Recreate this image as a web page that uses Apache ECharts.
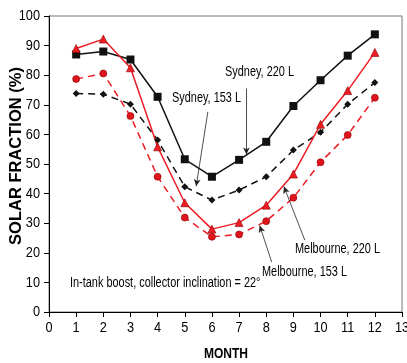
<!DOCTYPE html>
<html><head><meta charset="utf-8">
<script src="https://cdn.jsdelivr.net/npm/echarts@6/dist/echarts.min.js"></script>
<style>html,body{margin:0;padding:0;background:#fff}#c{width:407px;height:363px}</style>
</head><body><div id="c"></div>
<script>
const months = [1,2,3,4,5,6,7,8,9,10,11,12];
const sydney220 = [87,88,85.3,72.7,51.6,45.7,51.4,57.5,69.6,78.3,86.6,93.8];
const melbourne220 = [89,92.2,82.5,55.8,36.9,28,30.2,36.1,46.6,63.4,74.8,87.7];
const sydney153 = [73.8,73.6,70.2,58.1,42.3,37.8,41.2,45.7,54.7,60.7,70.2,77.5];
const melbourne153 = [78.7,80.6,66.2,45.7,31.9,25.4,26.2,30.7,38.6,50.6,59.8,72.4];
const xTicks = [0,1,2,3,4,5,6,7,8,9,10,11,12,13];
const yTicks = [0,10,20,30,40,50,60,70,80,90,100];

const FONT = '"Liberation Sans",sans-serif';
const pair = a => months.map((m,i)=>[m,a[i]]);
const chart = echarts.init(document.getElementById('c'), null, {renderer:'canvas'});
const arrowLines = [
  [[7.27,75.5],[7.27,53.2]],
  [[5.85,67.6],[5.42,42.5]],
  [[9.42,24.3],[8.65,42.4]],
  [[8.2,16.9],[7.76,29.2]]
];
const ann = (txt,x,y)=>({type:'text',x:x,y:y,scaleX:0.78,
  style:{text:txt,font:'14px '+FONT,fill:'#000',textAlign:'left',textVerticalAlign:'middle'}});
const option = {
  animation:false,
  grid:{left:49,right:5,top:16,bottom:51,show:true,borderColor:'#777',borderWidth:1,containLabel:false,outerBoundsMode:'none'},
  xAxis:{type:'value',min:0,max:13,interval:1,
    axisLine:{onZero:false,lineStyle:{color:'#000',width:1}},
    axisTick:{show:true,inside:false,length:5,lineStyle:{color:'#000'}},
    axisLabel:{show:false},
    splitLine:{show:false}},
  yAxis:{type:'value',min:0,max:100,interval:10,
    axisLine:{show:true,lineStyle:{color:'#000',width:1}},
    axisTick:{show:true,inside:false,length:5,lineStyle:{color:'#000'}},
    axisLabel:{show:false},
    splitLine:{show:false}},
  series:[
    {name:'Sydney, 220 L',type:'line',data:pair(sydney220),symbol:'rect',symbolSize:8,
      lineStyle:{color:'#111',width:1.5},itemStyle:{color:'#111'}},
    {name:'Sydney, 153 L',type:'line',data:pair(sydney153),symbol:'diamond',symbolSize:7,
      lineStyle:{color:'#111',width:1.5,type:[7,5]},itemStyle:{color:'#111'}},
    {name:'Melbourne, 220 L',type:'line',data:pair(melbourne220),symbol:'triangle',symbolSize:8,
      lineStyle:{color:'#ee1c24',width:1.5},itemStyle:{color:'#ee1c24',borderColor:'#8b0000',borderWidth:0.6}},
    {name:'Melbourne, 153 L',type:'line',data:pair(melbourne153),symbol:'circle',symbolSize:7,
      lineStyle:{color:'#ee1c24',width:1.5,type:[7,5]},itemStyle:{color:'#e0141c',borderColor:'#8b0000',borderWidth:0.6}},
    {type:'line',data:[],silent:true,
      markLine:{silent:true,symbol:['none','arrow'],symbolSize:[5,7],label:{show:false},
        lineStyle:{color:'#222',width:0.8,type:'solid'},
        data:arrowLines.map(l=>[{coord:l[0]},{coord:l[1]}])}}
  ]
};
chart.setOption(option);
const g = [
  ann('Sydney, 220 L',225,72),
  ann('Sydney, 153 L',172,98),
  ann('Melbourne, 220 L',295,249),
  ann('Melbourne, 153 L',262,272),
  ann('In-tank boost, collector inclination = 22°',70,283),
  {type:'text',x:226,y:354,scaleX:0.86,style:{text:'MONTH',font:'bold 14px '+FONT,fill:'#000',textAlign:'center',textVerticalAlign:'middle'}},
  {type:'text',x:16,y:156,rotation:Math.PI/2,style:{text:'SOLAR FRACTION (%)',font:'bold 16.5px '+FONT,fill:'#000',textAlign:'center',textVerticalAlign:'middle'}}
];
xTicks.forEach(v=>{
  const p = chart.convertToPixel({gridIndex:0},[v,0]);
  g.push({type:'text',x:p[0],y:p[1]+16,scaleX:0.85,style:{text:String(v),font:'15px '+FONT,fill:'#000',textAlign:'center',textVerticalAlign:'middle'}});
});
yTicks.forEach(v=>{
  const p = chart.convertToPixel({gridIndex:0},[0,v]);
  g.push({type:'text',x:p[0]-9,y:p[1],scaleX:0.85,style:{text:String(v),font:'15px '+FONT,fill:'#000',textAlign:'right',textVerticalAlign:'middle'}});
});
chart.setOption({graphic:g});
</script></body></html>
